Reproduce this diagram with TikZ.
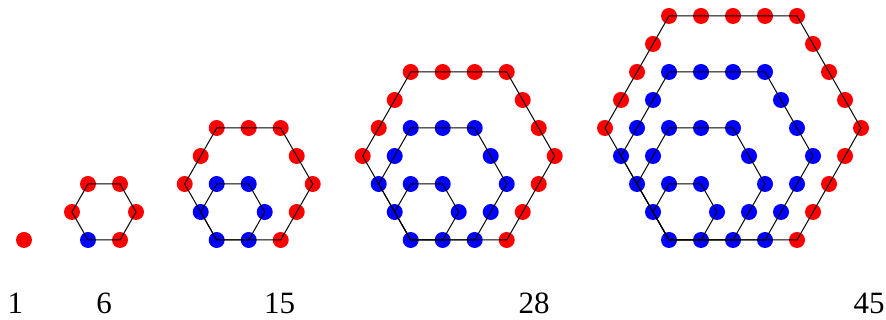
\documentclass[tikz,border=0pt]{standalone}
\usepackage{fontspec}
\setmainfont{Liberation Serif}
\usepackage{tikz}
\begin{document}
\begin{tikzpicture}
[x=1pt,y=1pt,
dot/.style = {circle, inner sep = 0pt, minimum size = 16pt},
hexline/.style = {draw = black, line width = 1pt},
numlabel/.style = {anchor = base, font = \fontsize{31}{31}\selectfont},]
\useasboundingbox (0,0) rectangle (886,320);
\foreach \n/\bx/\lx/\num in {1/24/15.5/1,2/88/104/6,3/216.7/279.5/15,4/410.7/534/28,5/669/869/45} {
  \pgfmathtruncatemacro{\k}{\n-1}
  \ifnum\n=1 \def\col{red}\else\def\col{blue}\fi
  \node[dot, fill = \col] (d\n-0) at (\bx,80) {};
  \ifnum\n>1
  \foreach \m in {1,...,\k} {
    \pgfmathtruncatemacro{\mm}{\m-1}
    \ifnum\m=\k \def\col{red}\else\def\col{blue}\fi
    \foreach \e/\vx/\vy/\dx/\dy in {0/0/0/32/0,1/32/0/16/28,2/48/28/-16/28,3/32/56/-32/0,4/0/56/-16/-28,5/-16/28/16/-28} {
      \coordinate (v\n-\m-\e) at ({\bx+\m*\vx},{80+\m*\vy});
      \foreach \t in {0,...,\mm} {
        \pgfmathtruncatemacro{\i}{\e*\m+\t}
        \ifnum\i<\m \else \ifnum\i>\numexpr5*\m\relax \else
        \node[dot, fill = \col] (d\n-\m-\i) at ({\bx+\m*\vx+\t*(\dx)},{80+\m*\vy+\t*(\dy)}) {};
        \fi\fi
      }
    }
  }
  \foreach \m in {1,...,\k}
    \draw[hexline] (v\n-\m-0)--(v\n-\m-1)--(v\n-\m-2)--(v\n-\m-3)--(v\n-\m-4)--(v\n-\m-5)--cycle;
  \fi
  \node[numlabel] (c\n) at (\lx,6.5) {\num};
}
\end{tikzpicture}
\end{document}
